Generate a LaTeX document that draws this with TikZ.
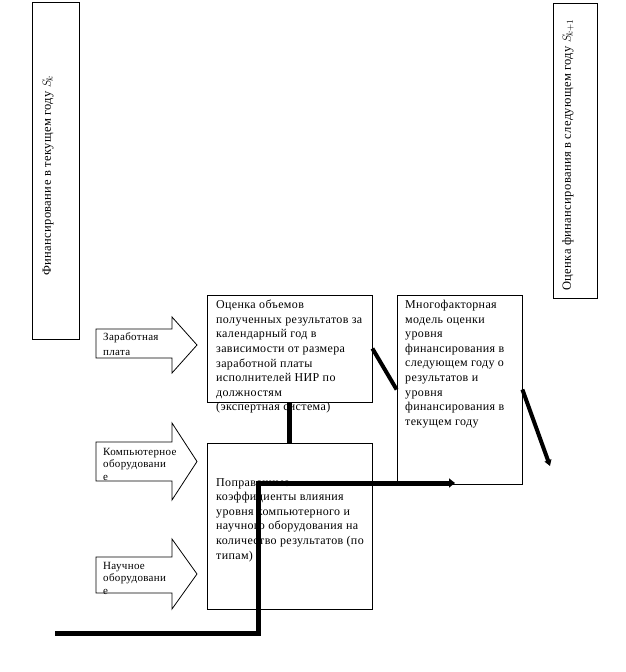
\documentclass[tikz,border=0pt]{standalone}
\usepackage{fontspec}
\setmainfont{Liberation Serif}[LetterSpace=3]
\usetikzlibrary{arrows.meta,calc,positioning}
\tikzstyle{box} = [draw=black, line width=0.8pt, inner sep=0pt]
\tikzstyle{txt} = [anchor=north west, align=left, inner sep=0pt, font=\fontsize{12}{14.6}\selectfont]
\tikzstyle{vtxt} = [rotate=90, inner sep=0pt, font=\fontsize{12.5}{13}\selectfont]
\tikzstyle{fat} = [line width=5pt, line join=miter]
\tikzstyle{slim} = [line width=4pt]
\tikzstyle{bigarrow} = [draw=black, line width=0.8pt, fill=white]
\def\strelka(#1,#2,#3,#4){\path[bigarrow] (96,#1) -- (172,#1) -- (172,#3) -- (197,{(#3+#4)/2}) -- (172,#4) -- (172,#2) -- (96,#2) -- cycle;}

\begin{document}
\begin{tikzpicture}[x=1pt,y=-1pt]
\useasboundingbox (0,0) rectangle (625,672);
% vertical boxes
\node[box, minimum width=47pt, minimum height=337pt] (fink) at (55.5,170.5) {};
\node[vtxt] (finktxt) at (48,176) {Финансирование в текущем году $S_{\!k}$};
\node[box, minimum width=44pt, minimum height=295pt] (finkk) at (575,150.5) {};
\node[vtxt] (finkktxt) at (568,155) {Оценка финансирования в следующем году $S_{\!k+1}$};
% main boxes
\node[box, minimum width=165pt, minimum height=107pt] (ocenka) at (289.5,348.5) {};
\node[txt] (ocenkatxt) at (216,300) {Оценка объемов\\полученных результатов за\\календарный год в\\зависимости от размера\\заработной платы\\исполнителей НИР по\\должностям\\(экспертная система)};
\node[box, minimum width=125pt, minimum height=189pt] (model) at (459.5,389.5) {};
\node[txt] (modeltxt) at (405,300) {Многофакторная\\модель оценки\\уровня\\финансирования в\\следующем году о\\результатов и\\уровня\\финансирования в\\текущем году};
\node[box, minimum width=165pt, minimum height=166pt] (popr) at (289.5,526) {};
\node[txt] (poprtxt) at (216,478) {Поправочные\\коэффициенты влияния\\уровня компьютерного и\\научного оборудования на\\количество результатов (по\\типам)};
% input arrows
\strelka(329,358,317,373)
\node[txt, font=\fontsize{11}{15}\selectfont] (zarplata) at (103,332) {Заработная\\плата};
\strelka(442,481,423,500)
\node[txt, font=\fontsize{11}{12.5}\selectfont] (komp) at (103,448) {Компьютерное\\оборудовани\\е};
\strelka(557,593,539,609)
\node[txt, font=\fontsize{11}{12.5}\selectfont] (nauch) at (103,562) {Научное\\оборудовани\\е};
% connectors
\coordinate (vyhod) at (550,466);
\coordinate (vhod) at (55,633);
\coordinate (povorot) at (258,483);
\coordinate (konec) at (455,483);
\draw[fat] (ocenka.south) -- (popr.north);
\draw[slim] (ocenka.east) -- (model.west);
\draw[slim,-{Triangle[length=6pt,width=7pt]}] (model.east) -- (vyhod);
\draw[fat,-{Triangle[length=6pt,width=9pt]}] (vhod) -| (povorot) -- (konec);
\end{tikzpicture}
\end{document}
